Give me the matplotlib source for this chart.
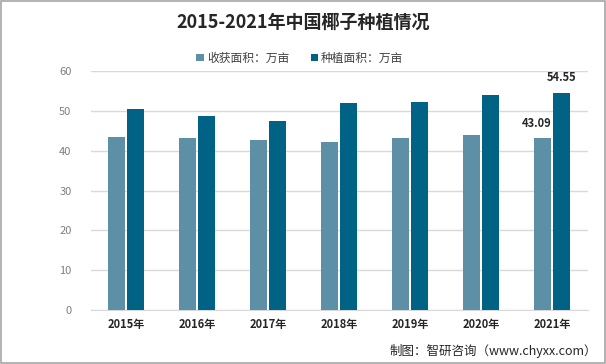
import matplotlib
matplotlib.use("Agg")
import matplotlib.pyplot as plt
from matplotlib.patches import Rectangle
import numpy as np

plt.rcParams['font.family'] = ['Noto Sans CJK SC', 'DejaVu Sans']

years = ['2015年', '2016年', '2017年', '2018年', '2019年', '2020年', '2021年']
harvest = [43.5, 43.2, 42.7, 42.2, 43.2, 44.0, 43.09]
planted = [50.5, 48.8, 47.5, 52.0, 52.3, 54.0, 54.55]
series_names = ['收获面积：万亩', '种植面积：万亩']
yticks = [0, 10, 20, 30, 40, 50, 60]

c_h = '#5D90A7'
c_p = '#006385'

fig = plt.figure(figsize=(6.06, 3.64), dpi=100)
ax = fig.add_axes([0.150, 0.148, 0.820, 0.657])

x = np.arange(len(years))
w = 0.24
gap = 0.015
b1 = ax.bar(x - w/2 - gap, harvest, w, color=c_h, label=series_names[0], zorder=3)
b2 = ax.bar(x + w/2 + gap, planted, w, color=c_p, label=series_names[1], zorder=3)

ax.set_xlim(-0.5, len(years) - 0.5)
ax.set_ylim(0, 60)
ax.set_yticks(yticks)
ax.set_yticklabels([str(t) for t in yticks], color='#7F7F7F', fontsize=8)
ax.tick_params(axis='y', length=0, pad=14)
ax.set_xticks(x)
ax.set_xticklabels(years, fontsize=8, fontweight='bold', color='#262626')
ax.tick_params(axis='x', length=0, pad=6)
ax.grid(axis='y', color='#D9D9D9', linewidth=1, zorder=0)
for s in ['top', 'right', 'left']:
    ax.spines[s].set_visible(False)
ax.spines['bottom'].set_color('#D9D9D9')

ax.text(x[-1] - w/2 - gap - 0.08, harvest[-1] + 2.2, f'{harvest[-1]:.2f}', ha='center', va='bottom',
        fontsize=8, fontweight='bold', color='#262626')
ax.text(x[-1] + w/2 + gap, planted[-1] + 2.2, f'{planted[-1]:.2f}', ha='center', va='bottom',
        fontsize=8, fontweight='bold', color='#262626')

fig.text(0.5, 0.94, '2015-2021年中国椰子种植情况', ha='center', va='center',
         fontsize=13, fontweight='bold', color='#262626')

leg = fig.legend(handles=[b1, b2], loc='center', bbox_to_anchor=(0.495, 0.84), ncol=2,
                 frameon=False, fontsize=8.5, handlelength=0.6, handleheight=0.6,
                 handletextpad=0.3, columnspacing=1.8)
for t in leg.get_texts():
    t.set_color('#404040')

fig.text(0.985, 0.035, '制图：智研咨询（www.chyxx.com）', ha='right', va='center',
         fontsize=9, color='#262626')

fig.patches.append(Rectangle((0.001, 0.002), 0.997, 0.995, transform=fig.transFigure,
                             fill=False, edgecolor='#A6A6A6', linewidth=1.2))

fig.savefig('out.png', dpi=100)
